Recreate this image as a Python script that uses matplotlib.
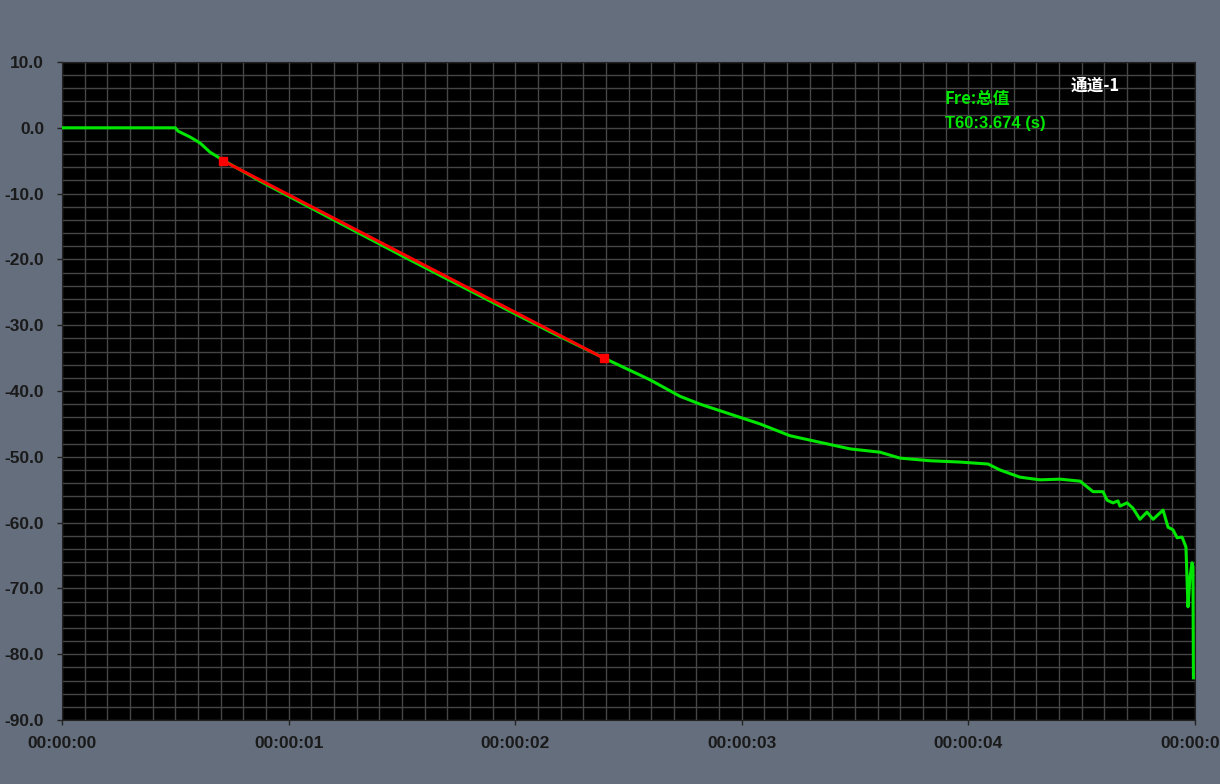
import numpy as np
import matplotlib
matplotlib.use("Agg")
import matplotlib.pyplot as plt
from matplotlib.ticker import MultipleLocator

plt.rcParams['font.family'] = ['Liberation Sans', 'Noto Sans CJK SC', 'DejaVu Sans']

# decay curve (time in s, level in dB)
t = [0.0, 0.5, 0.512, 0.565, 0.609, 0.653, 0.710, 0.874, 1.050, 1.271, 1.492,
     1.712, 1.933, 2.154, 2.392, 2.595, 2.727, 2.816, 2.948, 3.080, 3.213,
     3.345, 3.478, 3.610, 3.698, 3.831, 3.963, 4.087, 4.139, 4.228, 4.316,
     4.404, 4.493, 4.550, 4.594, 4.612, 4.638, 4.660, 4.669, 4.700, 4.726,
     4.757, 4.788, 4.815, 4.859, 4.881, 4.903, 4.921, 4.943, 4.960, 4.965,
     4.969, 4.978, 4.987, 4.991, 4.993]
level = [0.0, 0.0, -0.5, -1.4, -2.3, -3.7, -4.9, -8.1, -11.3, -15.3, -19.3,
         -23.2, -27.1, -31.0, -35.0, -38.3, -40.8, -42.0, -43.5, -45.0, -46.8,
         -47.8, -48.8, -49.3, -50.2, -50.6, -50.8, -51.1, -52.0, -53.1, -53.5,
         -53.4, -53.7, -55.3, -55.3, -56.6, -57.0, -56.7, -57.5, -57.0, -57.8,
         -59.5, -58.4, -59.5, -58.1, -60.7, -61.1, -62.3, -62.2, -63.7, -68.7,
         -72.8, -68.3, -66.1, -66.7, -83.6]

# T60 regression segment
fit_t = [0.71, 2.39]
fit_db = [-5.0, -35.0]

xticks = [0, 1, 2, 3, 4, 5]
xlabels = ["00:00:00", "00:00:01", "00:00:02", "00:00:03", "00:00:04", "00:00:05"]
yticks = np.arange(10, -91, -10)

bg = '#646e7d'
fig = plt.figure(figsize=(12.2, 7.84), dpi=100, facecolor=bg)
ax = fig.add_axes([62/1220, 1-720/784, (1195-62)/1220, (720-62)/784])
ax.set_facecolor('black')

ax.plot(t, level, color='#00e600', lw=2.2, zorder=3)
ax.plot(fit_t, fit_db, color='#ff0000', lw=2.2, marker='s', ms=6, zorder=4)

ax.set_xlim(0, 5)
ax.set_ylim(-90, 10)
ax.set_xticks(xticks)
ax.set_xticklabels(xlabels)
ax.set_yticks(yticks)
ax.set_yticklabels(["%.1f" % v for v in yticks])
ax.xaxis.set_minor_locator(MultipleLocator(0.1))
ax.yaxis.set_minor_locator(MultipleLocator(2))
ax.grid(which='both', color='#464646', lw=1.0)
ax.tick_params(which='minor', length=0)
ax.tick_params(which='major', length=3.8, color='#222222', width=1)
ax.tick_params(axis='x', pad=8)
ax.tick_params(axis='y', pad=9)
for lab in ax.get_xticklabels() + ax.get_yticklabels():
    lab.set_fontsize(12.5)
    lab.set_fontweight('bold')
    lab.set_color('#1a1a1a')
for s in ax.spines.values():
    s.set_color('#222222')

ax.text(0.912, 0.964, "通道-1", transform=ax.transAxes, color='white',
        fontsize=12, fontweight='bold', ha='center', va='center',
        family=['Noto Sans CJK SC', 'DejaVu Sans'])
ax.text(0.779, 0.944, "Fre:总值", transform=ax.transAxes, color='#00e600',
        fontsize=12, fontweight='bold', ha='left', va='center',
        family=['Noto Sans CJK SC', 'DejaVu Sans'])
ax.text(0.779, 0.906, "T60:3.674 (s)", transform=ax.transAxes, color='#00e600',
        fontsize=12, fontweight='bold', ha='left', va='center')

fig.savefig('out.png', dpi=100, facecolor=bg)
